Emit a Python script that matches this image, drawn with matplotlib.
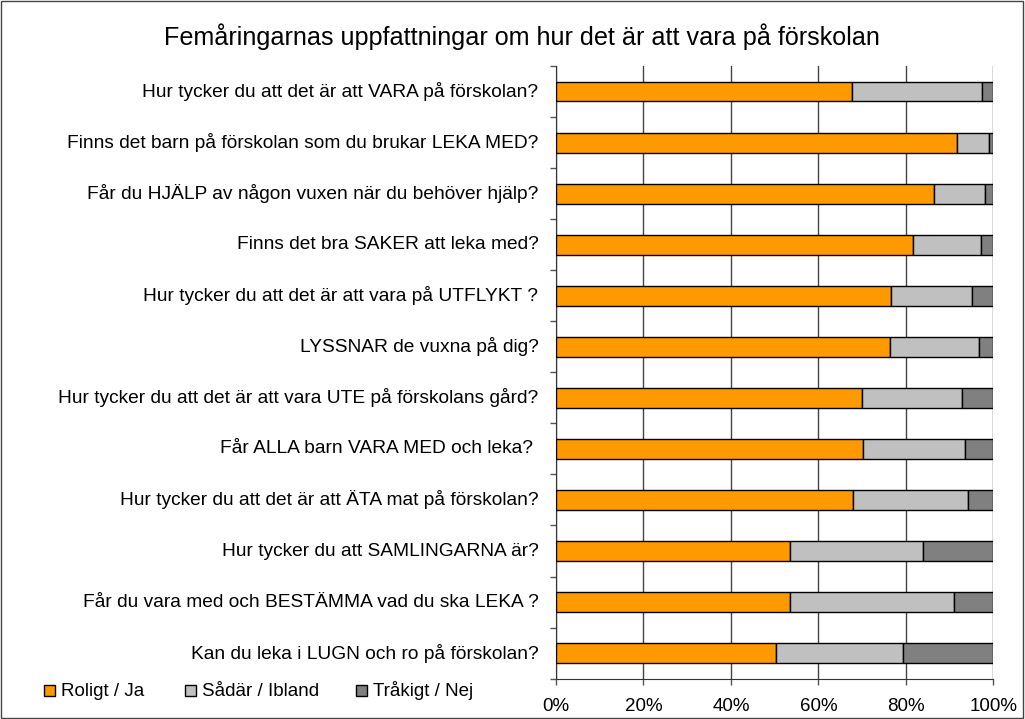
import numpy as np
import matplotlib.pyplot as plt
from matplotlib.patches import Rectangle

plt.rcParams['font.family'] = ['Liberation Sans', 'DejaVu Sans']

questions = [
    'Hur tycker du att det är att VARA på förskolan?',
    'Finns det barn på förskolan som du brukar LEKA MED?',
    'Får du HJÄLP av någon vuxen när du behöver hjälp?',
    'Finns det bra SAKER att leka med?',
    'Hur tycker du att det är att vara på UTFLYKT ?',
    'LYSSNAR de vuxna på dig?',
    'Hur tycker du att det är att vara UTE på förskolans gård?',
    'Får ALLA barn VARA MED och leka? ',
    'Hur tycker du att det är att ÄTA mat på förskolan?',
    'Hur tycker du att SAMLINGARNA är?',
    'Får du vara med och BESTÄMMA vad du ska LEKA ?',
    'Kan du leka i LUGN och ro på förskolan?',
]
roligt = [67.6, 91.6, 86.5, 81.7, 76.6, 76.3, 70.0, 70.1, 67.8, 53.5, 53.4, 50.3]
sadar = [29.7, 7.5, 11.5, 15.4, 18.4, 20.3, 22.8, 23.5, 26.3, 30.5, 37.6, 29.1]
trakigt = [2.7, 0.9, 2.0, 2.9, 5.0, 3.4, 7.2, 6.4, 5.9, 16.0, 9.0, 20.6]
series_names = ['Roligt / Ja', 'Sådär / Ibland', 'Tråkigt / Nej']
colors = ['#FF9900', '#C0C0C0', '#808080']

fig = plt.figure(figsize=(10.25, 7.19), dpi=100)
ax = fig.add_axes([0.5424, 0.0561, 0.4268, 0.8521])

y = np.arange(len(questions))
left = np.zeros(len(questions))
for vals, name, c in zip([roligt, sadar, trakigt], series_names, colors):
    ax.barh(y, vals, left=left, height=0.39, color=c, edgecolor='black',
            linewidth=1.0, label=name, zorder=3)
    left = left + np.array(vals)

ax.set_xlim(0, 100)
ax.set_ylim(len(questions) - 0.5, -0.5)
ax.set_xticks(np.arange(0, 101, 20))
ax.set_xticklabels(['%d%%' % v for v in range(0, 101, 20)], fontsize=13.5)
ax.xaxis.grid(True, color='#444444', linewidth=1.0, zorder=0)
ax.set_yticks(np.arange(len(questions) + 1) - 0.5)
ax.set_yticklabels([])
ax.tick_params(axis='y', length=4, color='#555555', width=1)
ax.tick_params(axis='x', length=4, color='#555555', width=1, pad=10)
for s in ['top', 'right']:
    ax.spines[s].set_visible(False)
for s in ['left', 'bottom']:
    ax.spines[s].set_color('#333333')

# question labels to the left of the bars
for i, q in enumerate(questions):
    ax.text(-4.0, i, q, ha='right', va='center', fontsize=13.8, clip_on=False)

fig.text(0.509, 0.9485, 'Femåringarnas uppfattningar om hur det är att vara på förskolan',
         ha='center', va='center', fontsize=18.1)

# legend drawn by hand so the entries sit where Excel put them
leg_x = [0.043, 0.180, 0.347]
sq_w, sq_h = 11 / 1025, 11 / 719
base_y = 1 - 696 / 719
for name, c, lx in zip(series_names, colors, leg_x):
    fig.patches.append(Rectangle((lx, base_y), sq_w, sq_h, transform=fig.transFigure,
                                 facecolor=c, edgecolor='black', linewidth=1.0))
    fig.text(lx + 17 / 1025, base_y, name, ha='left', va='baseline', fontsize=13.5)

fig.patches.append(Rectangle((0.001, 0.001), 0.997, 0.997, transform=fig.transFigure,
                             fill=False, edgecolor='#444444', linewidth=1.0))

fig.savefig('out.png', dpi=100)
